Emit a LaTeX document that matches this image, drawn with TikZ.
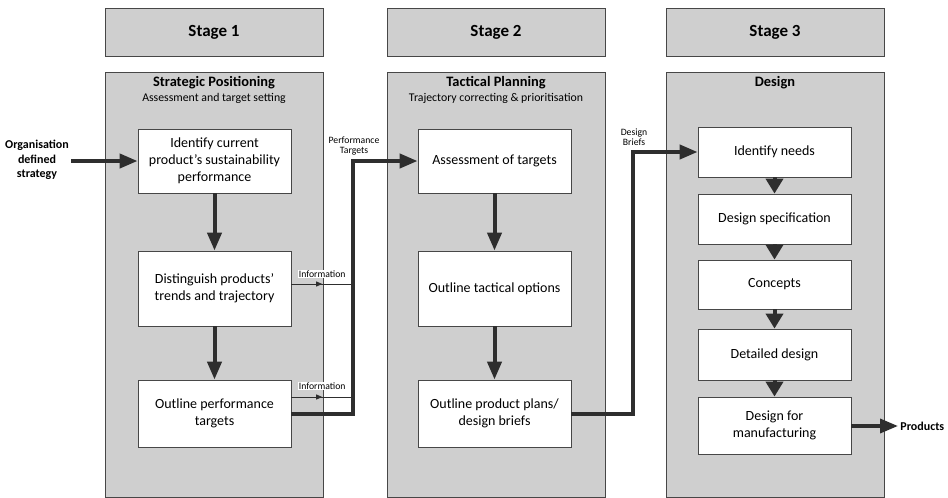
\documentclass[tikz,border=0pt]{standalone}
\usepackage{fontspec}
\setmainfont{Carlito}
\usetikzlibrary{arrows.meta, positioning, calc}
\definecolor{cpanel}{HTML}{CFCFCF}
\definecolor{cdark}{HTML}{2E2E2E}
\definecolor{cedge}{HTML}{474747}
\tikzset{
  every picture/.style={x=1pt, y=-1pt, line width=0.8pt},
  panel/.style={draw=cedge, fill=cpanel, minimum width=218pt, inner sep=0pt},
  stagebox/.style={panel, minimum height=48pt, font=\bfseries\fontsize{17}{20}\selectfont},
  card/.style={draw=cedge, fill=white, minimum width=153pt, align=center, inner sep=2pt, font=\fontsize{14}{17}\selectfont},
  flow/.style={-{Triangle[length=18pt, width=14pt]}, draw=cdark, line width=4pt},
  sflow/.style={-{Triangle[length=15pt, width=17pt]}, draw=cdark, line width=4pt},
  infoline/.style={draw=cdark, line width=0.8pt},
  infoarrow/.style={-{Triangle[length=6pt, width=5pt]}, draw=cdark, line width=0.8pt},
  title/.style={font=\bfseries\fontsize{14.4}{16}\selectfont},
  sub/.style={font=\fontsize{11.8}{13}\selectfont},
  note/.style={font=\fontsize{9.7}{10.5}\selectfont, align=center, inner sep=1pt},
  ends/.style={font=\bfseries\fontsize{12}{14.5}\selectfont, align=center, inner sep=2pt},
}

\begin{document}
\begin{tikzpicture}
  \useasboundingbox (0,0) rectangle (948,498);
  % stage headers and panels
  \foreach \s/\x in {1/214,2/496,3/775} {
    \node[stagebox] (st\s) at (\x,32) {Stage \s};
    \node[panel, minimum height=425pt] (pan\s) at (\x,284.5) {};
  }
  \node[title] (tt1) at (214,83) {Strategic Positioning};
  \node[sub] (ts1) at (214,98) {Assessment and target setting};
  \node[title] (tt2) at (496,83) {Tactical Planning};
  \node[sub] (ts2) at (496,98) {Trajectory correcting \& prioritisation};
  \node[title] (tt3) at (775,83) {Design};
  % stage 1
  \node[card, minimum height=64pt] (c11) at (214.5,161) {Identify current\\product’s sustainability\\performance};
  \node[card, minimum height=75pt] (c12) at (214.5,288.5) {Distinguish products’\\trends and trajectory};
  \node[card, minimum height=67pt] (c13) at (214.5,413.5) {Outline performance\\targets};
  % stage 2
  \node[card, minimum height=64pt] (c21) at (494.5,161) {Assessment of targets};
  \node[card, minimum height=75pt] (c22) at (494.5,288.5) {Outline tactical options};
  \node[card, minimum height=67pt] (c23) at (494.5,413.5) {Outline product plans/\\design briefs};
  % stage 3
  \node[card, minimum height=50pt] (c31) at (774.5,152) {Identify needs};
  \node[card, minimum height=50pt] (c32) at (774.5,219) {Design specification};
  \node[card, minimum height=49pt] (c33) at (774.5,284.5) {Concepts};
  \node[card, minimum height=51pt] (c34) at (774.5,354.5) {Detailed design};
  \node[card, minimum height=57pt] (c35) at (774.5,425.5) {Design for\\manufacturing};
  \foreach \s in {1,2} {
    \draw[flow] (c\s1) -- (c\s2);
    \draw[flow] (c\s2) -- (c\s3);
  }
  \foreach \a/\b in {1/2,2/3,3/4,4/5} \draw[sflow] (c3\a) -- (c3\b);
  % input and output
  \node[ends] (org) at (37,160) {Organisation\\defined\\strategy};
  \draw[flow] (org.east |- c11.west) -- (c11.west);
  \node[ends, anchor=west] (prod) at (898,426) {Products};
  \draw[flow, line width=3.5pt] (c35.east |- prod.west) -- (prod.west);
  % performance targets route
  \coordinate (pbend) at (353,161);
  \draw[flow] (c13.east) -| (pbend) -- (c21.west);
  \node[note] (ptlab) at (354,146) {Performance\\Targets};
  \coordinate (inf1) at ($(c12.east)+(0,-4.5)$);
  \coordinate (inf1e) at (pbend |- inf1);
  \draw[infoline] (inf1) -- (inf1e);
  \draw[infoarrow] (inf1) -- ($(inf1)!0.5!(inf1e)$);
  \node[note, fill=white] (ilab1) at ($(inf1)!0.5!(inf1e)+(0,-10)$) {Information};
  \coordinate (inf2) at ($(c13.east)+(0,-16.5)$);
  \coordinate (inf2e) at (pbend |- inf2);
  \draw[infoline] (inf2) -- (inf2e);
  \draw[infoarrow] (inf2) -- ($(inf2)!0.5!(inf2e)$);
  \node[note, fill=white] (ilab2) at ($(inf2)!0.5!(inf2e)+(0,-11)$) {Information};
  % design briefs route
  \coordinate (dbend) at (633,152);
  \draw[flow] (c23.east) -| (dbend) -- (c31.west);
  \node[note] (dblab) at (634,137) {Design\\Briefs};
\end{tikzpicture}
\end{document}
